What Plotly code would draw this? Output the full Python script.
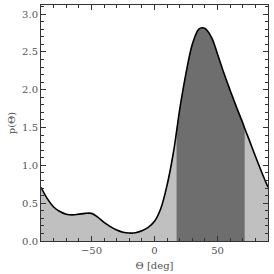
import plotly.graph_objects as go

theta = [-90, -85, -80, -75, -70, -65, -60, -55, -50, -45, -40, -35, -30, -25,
         -20, -15, -10, -5, 0, 5, 10, 15, 17.5, 20, 25, 30, 35, 38, 40, 45, 50,
         55, 60, 65, 70, 71.5, 75, 80, 85, 90]
p = [0.71, 0.56, 0.45, 0.39, 0.355, 0.345, 0.355, 0.365, 0.365, 0.315, 0.245,
     0.19, 0.145, 0.115, 0.105, 0.11, 0.135, 0.18, 0.26, 0.43, 0.74, 1.17, 1.45,
     1.74, 2.22, 2.6, 2.8, 2.82, 2.81, 2.7, 2.47, 2.22, 1.99, 1.77, 1.56, 1.49,
     1.34, 1.12, 0.91, 0.71]
dark_lo, dark_hi = 17.5, 71.5

x_ticks = [-50, 0, 50]
x_ticklabels = ["\u221250", "0", "50"]
y_ticks = [0.0, 0.5, 1.0, 1.5, 2.0, 2.5, 3.0]
y_ticklabels = ["0.0", "0.5", "1.0", "1.5", "2.0", "2.5", "3.0"]

dk_t = [t for t in theta if dark_lo <= t <= dark_hi]
dk_p = [v for t, v in zip(theta, p) if dark_lo <= t <= dark_hi]

fig = go.Figure()
fig.add_trace(go.Scatter(x=theta, y=p, mode="lines", line=dict(width=0, shape="spline"),
                         fill="tozeroy", fillcolor="#c0c0c0", hoverinfo="skip"))
fig.add_trace(go.Scatter(x=dk_t, y=dk_p, mode="lines", line=dict(width=0, shape="spline"),
                         fill="tozeroy", fillcolor="#6e6e6e", hoverinfo="skip"))
fig.add_trace(go.Scatter(x=theta, y=p, mode="lines",
                         line=dict(color="black", width=1.6, shape="spline")))

font = dict(family="DejaVu Serif", size=10, color="#555555")
axis_common = dict(showline=True, linecolor="#333333", linewidth=1, mirror="allticks",
                   ticks="inside", ticklen=5, tickcolor="#333333", showgrid=False,
                   zeroline=False, tickfont=font)
fig.update_xaxes(range=[-90, 90], tickvals=x_ticks, ticktext=x_ticklabels,
                 minor=dict(dtick=10, ticks="inside", ticklen=3, tickcolor="#333333"),
                 title=dict(text="\u0398 [deg]", font=font, standoff=6), **axis_common)
fig.update_yaxes(range=[0, 3.12], tickvals=y_ticks, ticktext=y_ticklabels,
                 minor=dict(dtick=0.1, ticks="inside", ticklen=3, tickcolor="#333333"),
                 title=dict(text="p(\u0398)", font=font, standoff=4), **axis_common)
fig.update_layout(width=274, height=274, margin=dict(l=41, r=6, t=5, b=33),
                  paper_bgcolor="white", plot_bgcolor="white", showlegend=False)
fig.write_html("out.html", config={"displayModeBar": False},
               post_script="document.body.style.margin='0';document.body.style.overflow='hidden';")
